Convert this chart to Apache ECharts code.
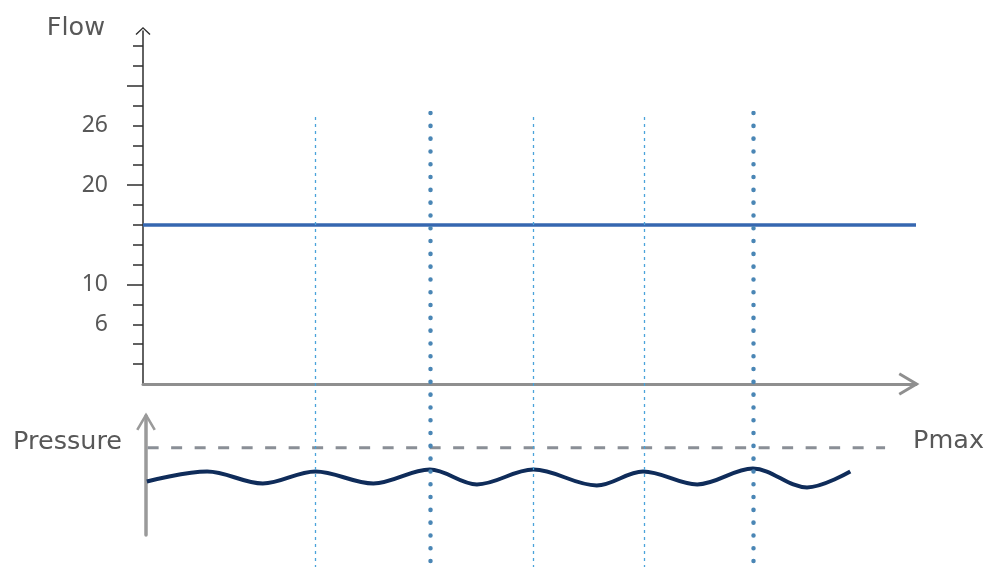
<!DOCTYPE html>
<html>
<head>
<meta charset="utf-8">
<script src="https://cdn.jsdelivr.net/npm/echarts@6/dist/echarts.min.js"></script>
<style>
  html, body { margin: 0; padding: 0; background: #fff; }
  #chart { width: 986px; height: 567px; }
</style>
</head>
<body>
<div id="chart"></div>
<script>
// time axis (0..100) shared by both panels
const flowX = [0, 100];
const flowY = [16, 16];

const flowMinorTicks = [2, 4, 6, 8, 12, 14, 16, 18, 22, 24, 26, 28, 32, 34];
const flowMajorTicks = [10, 20, 30];
const flowLabels = [6, 10, 20, 26];

const pmaxX = [0.6, 96];
const pmaxY = [8.8, 8.8];

const waveX = [0.5, 8.3, 15.5, 22.3, 29.8, 37.1, 43.2, 50.5, 58.7, 64.7, 71.7, 78.9, 85.9, 91.5];
const waveY = [5.4, 6.4, 5.2, 6.4, 5.2, 6.6, 5.1, 6.6, 5.0, 6.4, 5.1, 6.7, 4.8, 6.4];

const thinMarks = [22.3, 50.5, 64.9];
const thickMarks = [37.1, 79.0];

const font = 'DejaVu Sans';
const textColor = '#585858';
const arrowPath = 'path://M11.5,0 L23,19.5 L20.4,21 L11.5,5.9 L2.6,21 L0,19.5 Z';
const thinArrow = 'path://M7.5,0 L15,7 L14,8 L7.5,1.8 L1,8 L0,7 Z';

const zip = (xs, ys) => xs.map((x, i) => [x, ys[i]]);

const chart = echarts.init(document.getElementById('chart'));
chart.setOption({
  animation: false,
  grid: [
    { left: 143, right: 70, top: 31, bottom: 183 },
    { left: 143, right: 70, top: 416, bottom: 32 },
    { left: 143, right: 70, top: 113, bottom: 0 },
  ],
  xAxis: [
    {
      gridIndex: 0,
      type: 'value',
      min: 0,
      max: 100,
      axisLine: {
        show: true,
        symbol: ['none', arrowPath],
        symbolSize: [23, 22],
        symbolOffset: [0, -7],
        lineStyle: { color: '#8f8f8f', width: 3 },
      },
      axisTick: { show: false },
      axisLabel: { show: false },
      splitLine: { show: false },
    },
    { gridIndex: 1, type: 'value', min: 0, max: 100, show: false },
    { gridIndex: 2, type: 'value', min: 0, max: 100, show: false },
  ],
  yAxis: [
    {
      gridIndex: 0,
      type: 'value',
      min: 0,
      max: 35.5,
      name: 'Flow',
      nameLocation: 'end',
      nameGap: 3,
      nameTextStyle: {
        fontFamily: font,
        fontSize: 25.5,
        color: textColor,
        align: 'right',
        verticalAlign: 'middle',
        padding: [0, 38, 0, 0],
      },
      axisLine: {
        show: true,
        symbol: ['none', thinArrow],
        symbolSize: [15, 8],
        lineStyle: { color: '#2e2e2e', width: 1.5 },
      },
      axisTick: {
        show: true,
        customValues: flowMinorTicks,
        length: 10,
        lineStyle: { color: '#2e2e2e', width: 1.5 },
      },
      axisLabel: {
        customValues: flowLabels,
        margin: 35,
        fontFamily: 'Noto Sans',
        fontSize: 23,
        color: textColor,
      },
      splitLine: { show: false },
    },
    {
      gridIndex: 0,
      type: 'value',
      position: 'left',
      min: 0,
      max: 35.5,
      axisLine: { show: false },
      axisTick: {
        show: true,
        customValues: flowMajorTicks,
        length: 16,
        lineStyle: { color: '#2e2e2e', width: 1.5 },
      },
      axisLabel: { show: false },
      splitLine: { show: false },
    },
    {
      gridIndex: 1,
      type: 'value',
      min: 0,
      max: 12,
      offset: -3,
      name: 'Pressure',
      nameLocation: 'end',
      nameGap: -26,
      nameTextStyle: {
        fontFamily: font,
        fontSize: 25.5,
        color: textColor,
        align: 'right',
        verticalAlign: 'middle',
        padding: [0, 24, 0, 0],
      },
      axisLine: {
        show: true,
        symbol: ['none', arrowPath],
        symbolSize: [20, 18],
        symbolOffset: [0, -5.5],
        lineStyle: { color: '#9a9a9a', width: 3.5 },
      },
      axisTick: { show: false },
      axisLabel: { show: false },
      splitLine: { show: false },
    },
    { gridIndex: 2, type: 'value', min: 0, max: 1, show: false },
  ],
  series: [
    {
      name: 'Flow',
      type: 'line',
      xAxisIndex: 0,
      yAxisIndex: 0,
      data: zip(flowX, flowY),
      symbol: 'none',
      lineStyle: { color: '#3667b0', width: 3.5 },
      z: 3,
    },
    {
      name: 'Pmax',
      type: 'line',
      xAxisIndex: 1,
      yAxisIndex: 2,
      data: zip(pmaxX, pmaxY),
      symbol: 'none',
      lineStyle: { color: '#8a8f96', width: 3, type: [11, 12.5] },
      endLabel: {
        show: true,
        formatter: 'Pmax',
        distance: 28,
        offset: [0, -6],
        fontFamily: font,
        fontSize: 25.5,
        color: textColor,
      },
      z: 3,
    },
    {
      name: 'Pressure',
      type: 'line',
      xAxisIndex: 1,
      yAxisIndex: 2,
      data: zip(waveX, waveY),
      smooth: 0.35,
      symbol: 'none',
      lineStyle: { color: '#0f2c5a', width: 4 },
      z: 3,
    },
    {
      type: 'lines',
      coordinateSystem: 'cartesian2d',
      xAxisIndex: 2,
      yAxisIndex: 3,
      data: thinMarks.map((x) => ({ coords: [[x, 0.991], [x, 0]] })),
      lineStyle: { color: '#4aa3da', width: 1.3, type: [3, 4], opacity: 1 },
      silent: true,
      z: 5,
    },
    {
      type: 'lines',
      coordinateSystem: 'cartesian2d',
      xAxisIndex: 2,
      yAxisIndex: 3,
      data: thickMarks.map((x) => ({ coords: [[x, 1], [x, 0]] })),
      lineStyle: { color: '#4a86b5', width: 4.5, type: [0.1, 12.7], cap: 'round', opacity: 1 },
      silent: true,
      z: 5,
    },
  ],
});
</script>
</body>
</html>
